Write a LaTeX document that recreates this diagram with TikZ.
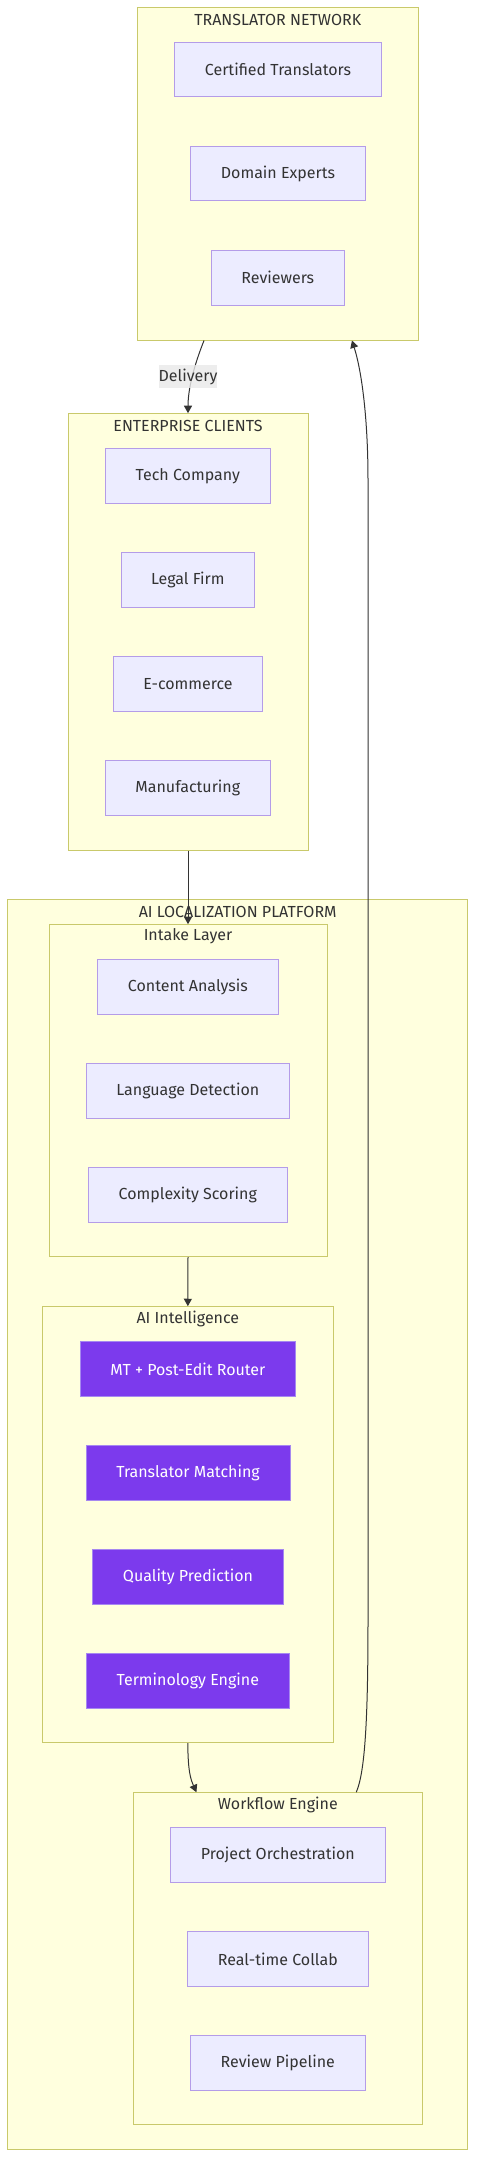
\documentclass[tikz,border=0pt]{standalone}
\usepackage{fontspec}
\setmainfont{Fira Sans}
\usetikzlibrary{arrows.meta,calc,fit}
\definecolor{clfill}{HTML}{FFFFDE}
\definecolor{clstroke}{HTML}{C9C96B}
\definecolor{ndfill}{HTML}{ECECFF}
\definecolor{ndstroke}{HTML}{B49CE8}
\definecolor{aifill}{HTML}{7C3AED}
\definecolor{aistroke}{HTML}{A688F0}
\definecolor{txt}{HTML}{333333}
\definecolor{edgec}{HTML}{333333}
\definecolor{lblbg}{HTML}{E8E8E8}
\newcommand\fsz{\fontsize{12pt}{14pt}\selectfont}
\tikzset{
  cl/.style={draw=clstroke, fill=clfill, line width=0.75pt, inner sep=0pt},
  nd/.style={draw=ndstroke, fill=ndfill, line width=0.75pt, text=txt, inner sep=0pt,
             minimum height=54.3*0.75pt, font=\fsz},
  ainode/.style={nd, draw=aistroke, fill=aifill, text=white},
  ttl/.style={text=txt, inner sep=0pt, font=\fsz},
  lbl/.style={fill=lblbg, fill opacity=0.8, text opacity=1, text=txt, inner sep=0pt,
              minimum width=58.3*0.75pt, minimum height=23.3*0.75pt, font=\fsz},
  ln/.style={draw=edgec, line width=0.75pt, -{Triangle[length=5.6pt,width=6pt]}},
}
\begin{document}
\begin{tikzpicture}[x=0.75pt,y=-0.75pt]
\useasboundingbox (0,0) rectangle (476,2158);
% clusters
\node[cl, fit={(137.3,7.7) (418.3,340)}] (tn) {};
\node[ttl] (tnT) at (277.8,19.5) {TRANSLATOR NETWORK};
\node[cl, fit={(68,413.7) (308,850)}] (ec) {};
\node[ttl] (ecT) at (188,425.5) {ENTERPRISE CLIENTS};
\node[cl, fit={(7.7,899.7) (467.7,2149.7)}] (pf) {};
\node[ttl] (pfT) at (237.7,911.5) {AI LOCALIZATION PLATFORM};
\node[cl, fit={(49,924.7) (327,1256.7)}] (il) {};
\node[ttl] (ilT) at (188,936.5) {Intake Layer};
\node[cl, fit={(42.7,1306.7) (333,1742.7)}] (ail) {};
\node[ttl] (ailT) at (187.85,1318.5) {AI Intelligence};
\node[cl, fit={(133.3,1792.7) (422.3,2124.7)}] (wf) {};
\node[ttl] (wfT) at (277.8,1804.5) {Workflow Engine};
% translator network
\node[nd, minimum width=206.6*0.75pt] (cert) at (278,69.85) {Certified Translators};
\node[nd, minimum width=174.6*0.75pt] (dom) at (278,173.85) {Domain Experts};
\node[nd, minimum width=133*0.75pt] (rev) at (277.8,277.85) {Reviewers};
% enterprise clients
\node[nd, minimum width=165*0.75pt] (tech) at (187.8,475.85) {Tech Company};
\node[nd, minimum width=133.7*0.75pt] (legal) at (187.85,579.85) {Legal Firm};
\node[nd, minimum width=149.4*0.75pt] (ecom) at (188,683.85) {E-commerce};
\node[nd, minimum width=165*0.75pt] (manu) at (187.8,787.85) {Manufacturing};
% intake
\node[nd, minimum width=180.3*0.75pt] (ca) at (187.85,986.85) {Content Analysis};
\node[nd, minimum width=203*0.75pt] (ld) at (187.8,1090.85) {Language Detection};
\node[nd, minimum width=199*0.75pt] (cs) at (187.8,1194.85) {Complexity Scoring};
% AI intelligence
\node[ainode, minimum width=215.7*0.75pt] (mt) at (187.85,1369) {MT + Post-Edit Router};
\node[ainode, minimum width=204*0.75pt] (tm) at (188,1472.85) {Translator Matching};
\node[ainode, minimum width=190.6*0.75pt] (qp) at (188,1576.85) {Quality Prediction};
\node[ainode, minimum width=203*0.75pt] (te) at (187.8,1680.85) {Terminology Engine};
% workflow
\node[nd, minimum width=214.3*0.75pt] (po) at (277.85,1854.85) {Project Orchestration};
\node[nd, minimum width=180.3*0.75pt] (rc) at (277.85,1958.85) {Real-time Collab};
\node[nd, minimum width=175*0.75pt] (rp) at (277.8,2062.85) {Review Pipeline};
% edges
\draw[ln] ($(tn.south west)!0.2384!(tn.south east)$) .. controls (197,358) and (188,385) .. (ec.north);
\node[lbl] (dl) at (188,376.7) {Delivery};
\draw[ln] (ec.south) -- (il.north);
\draw[ln] (il.south) -- (ail.north);
\draw[ln] (ail.south) .. controls (187.85,1772) and (191,1780) .. ($(wf.north west)!0.2194!(wf.north east)$);
\draw[ln] ($(wf.north west)!0.7706!(wf.north east)$) .. controls (365,1772) and (368,1720) .. (368,1620)
   -- (368,480) .. controls (368,420) and (362,372) .. ($(tn.south west)!0.763!(tn.south east)$);
\end{tikzpicture}
\end{document}
